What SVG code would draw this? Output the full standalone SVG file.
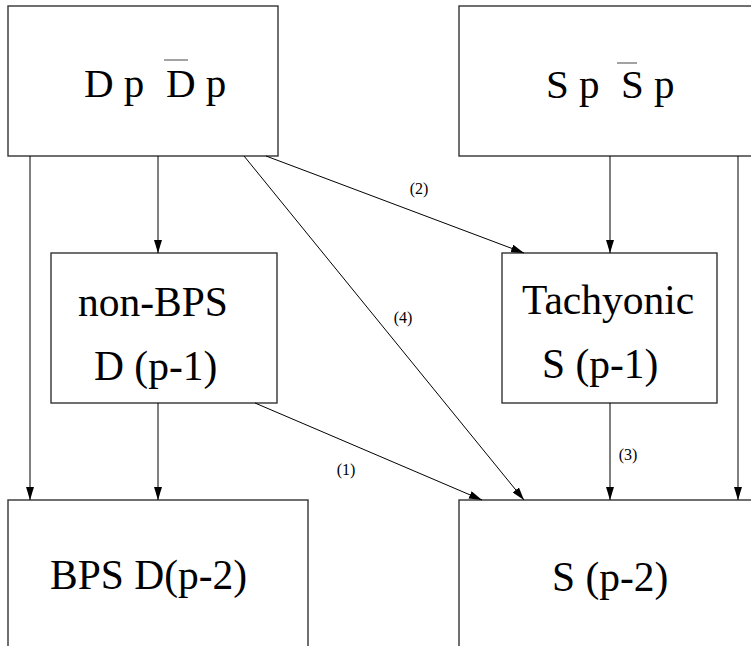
<svg xmlns="http://www.w3.org/2000/svg" width="751" height="646" viewBox="0 0 751 646">
<defs>
<marker id="ah" markerUnits="userSpaceOnUse" markerWidth="13" markerHeight="8" refX="13" refY="4" orient="auto">
<path d="M0,0 L13,4 L0,8 z" fill="#000"/>
</marker>
<style>
.box{fill:#fff;stroke:#333;stroke-width:1.4}
.cn{stroke:#000;stroke-width:1;fill:none;marker-end:url(#ah)}
.bar{stroke:#666;stroke-width:1.2}
</style>
</defs>
<rect width="751" height="646" fill="#fff"/>
<g font-family="'Liberation Serif', 'Times New Roman', Times, serif" fill="#000">
<g id="n-DpDp" font-size="41">
<rect class="box" x="8" y="6" width="270" height="150"/>
<text x="84" y="97">D p</text>
<text x="166" y="97">D p</text>
<line class="bar" x1="164" y1="60" x2="188" y2="60"/>
</g>
<g id="n-SpSp" font-size="41">
<rect class="box" x="459" y="6" width="310" height="150"/>
<text x="546" y="98">S p</text>
<text x="621" y="98">S p</text>
<line class="bar" x1="617" y1="63" x2="637" y2="63"/>
</g>
<g id="n-nonBPS" font-size="41.5">
<rect class="box" x="51" y="253" width="226" height="150"/>
<text x="78" y="316">non-BPS</text>
<text x="94" y="380">D (p-1)</text>
</g>
<g id="n-tach" font-size="41.5">
<rect class="box" x="502" y="253" width="215" height="150"/>
<text x="522" y="314">Tachyonic</text>
<text x="542" y="378">S (p-1)</text>
</g>
<g id="n-BPS" font-size="41.5">
<rect class="box" x="8" y="500" width="300" height="160"/>
<text x="50" y="589">BPS D(p-2)</text>
</g>
<g id="n-Sp2" font-size="41.5">
<rect class="box" x="459" y="500" width="310" height="160"/>
<text x="552" y="591">S (p-2)</text>
</g>
<g id="connectors" font-size="16" text-anchor="middle">
<line class="cn" x1="30" y1="156" x2="30" y2="500"/>
<line class="cn" x1="158" y1="156" x2="158" y2="253"/>
<line class="cn" x1="158" y1="403" x2="158" y2="500"/>
<line class="cn" x1="610" y1="156" x2="610" y2="253"/>
<line class="cn" x1="610" y1="403" x2="610" y2="500"/>
<line class="cn" x1="738" y1="156" x2="738" y2="500"/>
<line class="cn" x1="266" y1="156" x2="524" y2="253"/>
<line class="cn" x1="244" y1="156" x2="524" y2="500"/>
<line class="cn" x1="255" y1="403" x2="482" y2="500"/>
<text x="419" y="194">(2)</text>
<text x="403" y="323">(4)</text>
<text x="346" y="475">(1)</text>
<text x="628" y="460">(3)</text>
</g>
</g>
</svg>
